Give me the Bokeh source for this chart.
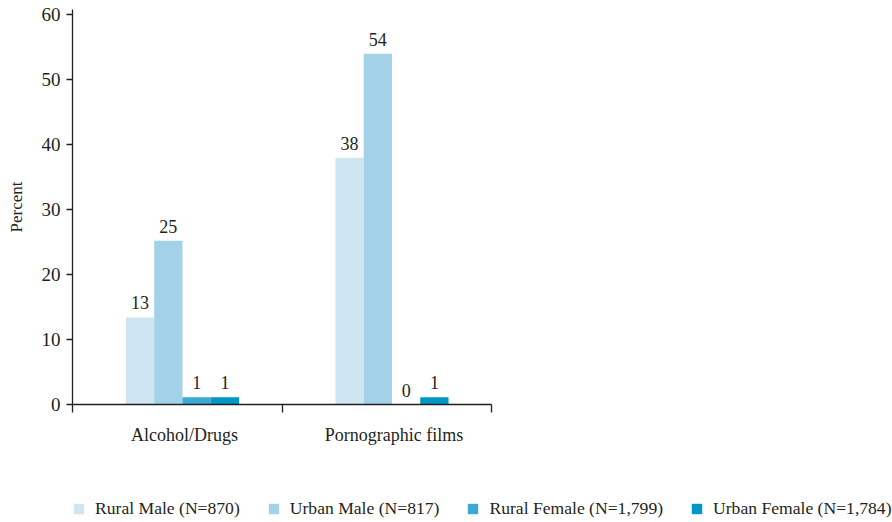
from bokeh.plotting import figure
from bokeh.layouts import column
from bokeh.models import (Range1d, LinearAxis, FixedTicker, Legend, LegendItem,
                          ColumnDataSource, LabelSet)
from bokeh.embed import file_html
from bokeh.resources import INLINE

categories = ["Alcohol/Drugs", "Pornographic films"]
series = ["Rural Male (N=870)", "Urban Male (N=817)",
          "Rural Female (N=1,799)", "Urban Female (N=1,784)"]
rural_male = [13.4, 38.0]
urban_male = [25.2, 54.0]
rural_female = [1.1, 0.0]
urban_female = [1.1, 1.1]
rural_male_lbl = ["13", "38"]
urban_male_lbl = ["25", "54"]
rural_female_lbl = ["1", "0"]
urban_female_lbl = ["1", "1"]
y_ticks = [0, 10, 20, 30, 40, 50, 60]
colors = ["#cfe6f2", "#a3d2e8", "#3aa9d4", "#0097c7"]

FONT = "Liberation Serif"
TXT = "#231f20"

values = [rural_male, urban_male, rural_female, urban_female]
lbls = [rural_male_lbl, urban_male_lbl, rural_female_lbl, urban_female_lbl]

W, H, HL = 892, 490, 32
LEFT, TOP = 72, 9
UNIT = 209.5  # px per category
GROUP = 0.525  # group centre offset within a category slot

p = figure(width=W, height=H, output_backend="svg", toolbar_location=None,
           x_range=Range1d(0, (W - LEFT) / UNIT), y_range=Range1d(0, 60.8),
           min_border_left=LEFT, min_border_right=0, min_border_top=TOP,
           min_border_bottom=H - 404, x_axis_type=None, y_axis_type=None)
p.outline_line_color = None
p.xgrid.visible = False
p.ygrid.visible = False

bw = 0.135
renderers = []
for j, (vals, lb, col) in enumerate(zip(values, lbls, colors)):
    xs = [i + GROUP + (j - 1.5) * bw for i in range(len(categories))]
    src = ColumnDataSource(dict(x=xs, top=vals, lbl=lb))
    r = p.vbar(x="x", top="top", width=bw, source=src, fill_color=col,
               line_color=None)
    renderers.append(r)
    p.add_layout(LabelSet(x="x", y="top", text="lbl", source=src,
                          text_align="center", text_baseline="alphabetic",
                          y_offset=8, text_color=TXT, text_font=FONT,
                          text_font_size="18px"))

# y axis
yaxis = LinearAxis(ticker=FixedTicker(ticks=y_ticks), axis_label="Percent")
yaxis.axis_line_color = TXT
yaxis.axis_line_width = 1.3
yaxis.major_tick_line_color = TXT
yaxis.major_tick_line_width = 1.3
yaxis.major_tick_out = 6
yaxis.major_tick_in = 0
yaxis.minor_tick_line_color = None
yaxis.major_label_text_font = FONT
yaxis.major_label_text_font_size = "19px"
yaxis.major_label_text_color = TXT
yaxis.major_label_standoff = 6
yaxis.axis_label_text_font = FONT
yaxis.axis_label_text_font_size = "17px"
yaxis.axis_label_text_font_style = "normal"
yaxis.axis_label_text_color = TXT
yaxis.axis_label_standoff = 13
p.add_layout(yaxis, "left")

# x axis (category labels under the bar groups, boundary ticks as minor ticks)
label_pos = [i + GROUP + 0.01 for i in range(len(categories))]
xaxis = LinearAxis(ticker=FixedTicker(ticks=label_pos,
                                      minor_ticks=list(range(len(categories) + 1))),
                   bounds=(0, len(categories)))
xaxis.major_label_overrides = {pos: c for pos, c in zip(label_pos, categories)}
xaxis.axis_line_color = TXT
xaxis.axis_line_width = 1.3
xaxis.major_tick_line_color = None
xaxis.major_tick_out = 0
xaxis.major_tick_in = 0
xaxis.minor_tick_line_color = TXT
xaxis.minor_tick_line_width = 1.3
xaxis.minor_tick_out = 8
xaxis.minor_tick_in = 0
xaxis.major_label_text_font = FONT
xaxis.major_label_text_font_size = "18px"
xaxis.major_label_text_color = TXT
xaxis.major_label_standoff = 12
p.add_layout(xaxis, "below")

# legend strip
pl = figure(width=W, height=HL, output_backend="svg", toolbar_location=None,
            x_range=Range1d(0, 1), y_range=Range1d(0, 1),
            min_border=0, x_axis_type=None, y_axis_type=None)
pl.outline_line_color = None
pl.xgrid.visible = False
pl.ygrid.visible = False
leg_r = [pl.vbar(x=[-5], top=[-5], bottom=[-6], width=0.1, fill_color=c,
                 line_color=None) for c in colors]
legend = Legend(items=[LegendItem(label=s, renderers=[r]) for s, r in zip(series, leg_r)],
                orientation="horizontal", location=(0, 3),
                glyph_width=13, glyph_height=13, label_standoff=10, spacing=27,
                padding=0, margin=0, border_line_color=None,
                background_fill_alpha=0,
                label_text_font=FONT, label_text_font_size="17.6px",
                label_text_color=TXT)
pl.add_layout(legend, "center")

layout = column(p, pl, spacing=0)
open("out.html", "w").write(file_html(layout, INLINE))
